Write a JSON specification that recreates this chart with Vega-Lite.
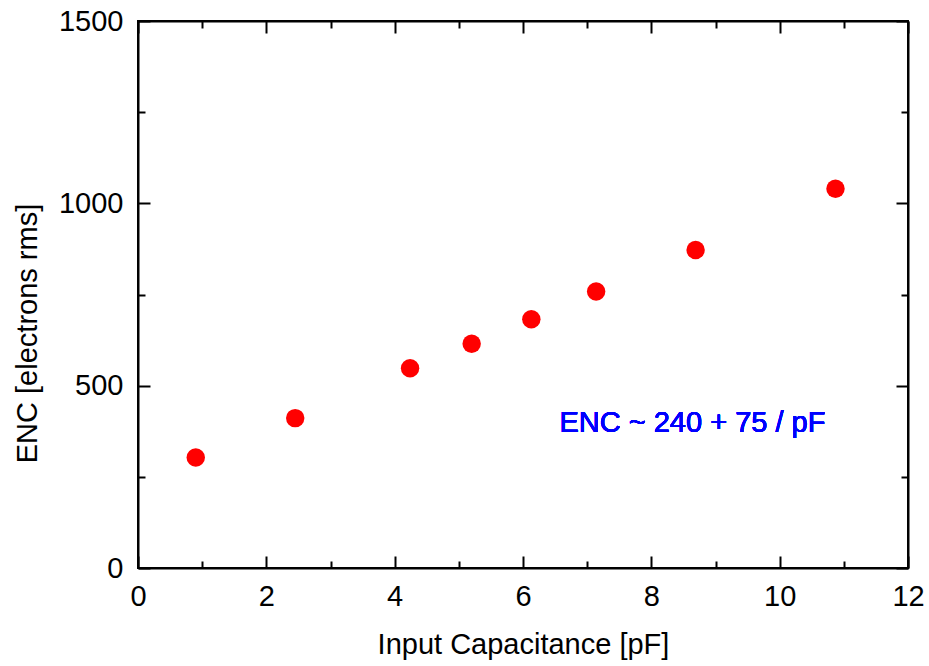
{
  "$schema": "https://vega.github.io/schema/vega-lite/v6.json",
  "width": 770,
  "height": 547,
  "autosize": {"type": "none"},
  "padding": {"left": 138, "top": 21, "right": 21, "bottom": 98},
  "background": "white",
  "config": {
    "view": {"stroke": "black", "strokeWidth": 2},
    "font": "Liberation Sans",
    "axis": {
      "grid": false,
      "domainColor": "black",
      "domainWidth": 2,
      "tickColor": "black",
      "tickWidth": 2,
      "labelFont": "Liberation Sans",
      "labelFontSize": 29,
      "labelColor": "black",
      "labelFlush": false,
      "labelOverlap": false,
      "titleFont": "Liberation Sans",
      "titleFontSize": 29,
      "titleFontWeight": "normal",
      "titleColor": "black"
    }
  },
  "data": {
    "values": [
      {"cap": 0.90, "enc": 303},
      {"cap": 2.45, "enc": 411},
      {"cap": 4.24, "enc": 548},
      {"cap": 5.20, "enc": 615},
      {"cap": 6.13, "enc": 682},
      {"cap": 7.14, "enc": 758},
      {"cap": 8.69, "enc": 872},
      {"cap": 10.87, "enc": 1040}
    ]
  },
  "resolve": {"axis": {"x": "independent", "y": "independent"}},
  "layer": [
    {
      "mark": {"type": "circle", "size": 340, "color": "#ff0000", "opacity": 1},
      "encoding": {
        "x": {"field": "cap", "type": "quantitative", "scale": {"domain": [0, 12], "nice": false, "zero": false},
          "axis": {"orient": "bottom", "values": [0, 2, 4, 6, 8, 10, 12], "format": "d", "tickSize": -12, "labelPadding": 26, "title": "Input Capacitance [pF]", "titlePadding": 19}},
        "y": {"field": "enc", "type": "quantitative", "scale": {"domain": [0, 1500], "nice": false, "zero": false},
          "axis": {"orient": "left", "values": [0, 500, 1000, 1500], "format": "d", "tickSize": -12, "labelPadding": 27, "title": "ENC [electrons rms]", "titlePadding": 16, "titleY": 312}}
      }
    },
    {
      "mark": {"type": "point", "opacity": 0},
      "encoding": {
        "x": {"field": "cap", "type": "quantitative",
          "axis": {"orient": "bottom", "values": [1, 3, 5, 7, 9, 11], "tickSize": -7, "labels": false, "title": null, "domain": false}},
        "y": {"field": "enc", "type": "quantitative",
          "axis": {"orient": "left", "values": [250, 750, 1250], "tickSize": -7, "labels": false, "title": null, "domain": false}}
      }
    },
    {
      "mark": {"type": "point", "opacity": 0},
      "encoding": {
        "x": {"field": "cap", "type": "quantitative",
          "axis": {"orient": "top", "values": [0, 2, 4, 6, 8, 10, 12], "tickSize": -12, "labels": false, "title": null}},
        "y": {"field": "enc", "type": "quantitative",
          "axis": {"orient": "right", "values": [0, 500, 1000, 1500], "tickSize": -12, "labels": false, "title": null}}
      }
    },
    {
      "mark": {"type": "point", "opacity": 0},
      "encoding": {
        "x": {"field": "cap", "type": "quantitative",
          "axis": {"orient": "top", "values": [1, 3, 5, 7, 9, 11], "tickSize": -7, "labels": false, "title": null, "domain": false}},
        "y": {"field": "enc", "type": "quantitative",
          "axis": {"orient": "right", "values": [250, 750, 1250], "tickSize": -7, "labels": false, "title": null, "domain": false}}
      }
    },
    {
      "mark": {"type": "text", "text": "ENC ~ 240 + 75 / pF", "color": "#0000ff", "font": "Liberation Sans", "fontSize": 29, "fontWeight": "normal", "align": "center", "baseline": "middle"},
      "encoding": {
        "x": {"datum": 8.64, "type": "quantitative", "axis": null},
        "y": {"datum": 398, "type": "quantitative", "axis": null}
      }
    }
  ]
}
